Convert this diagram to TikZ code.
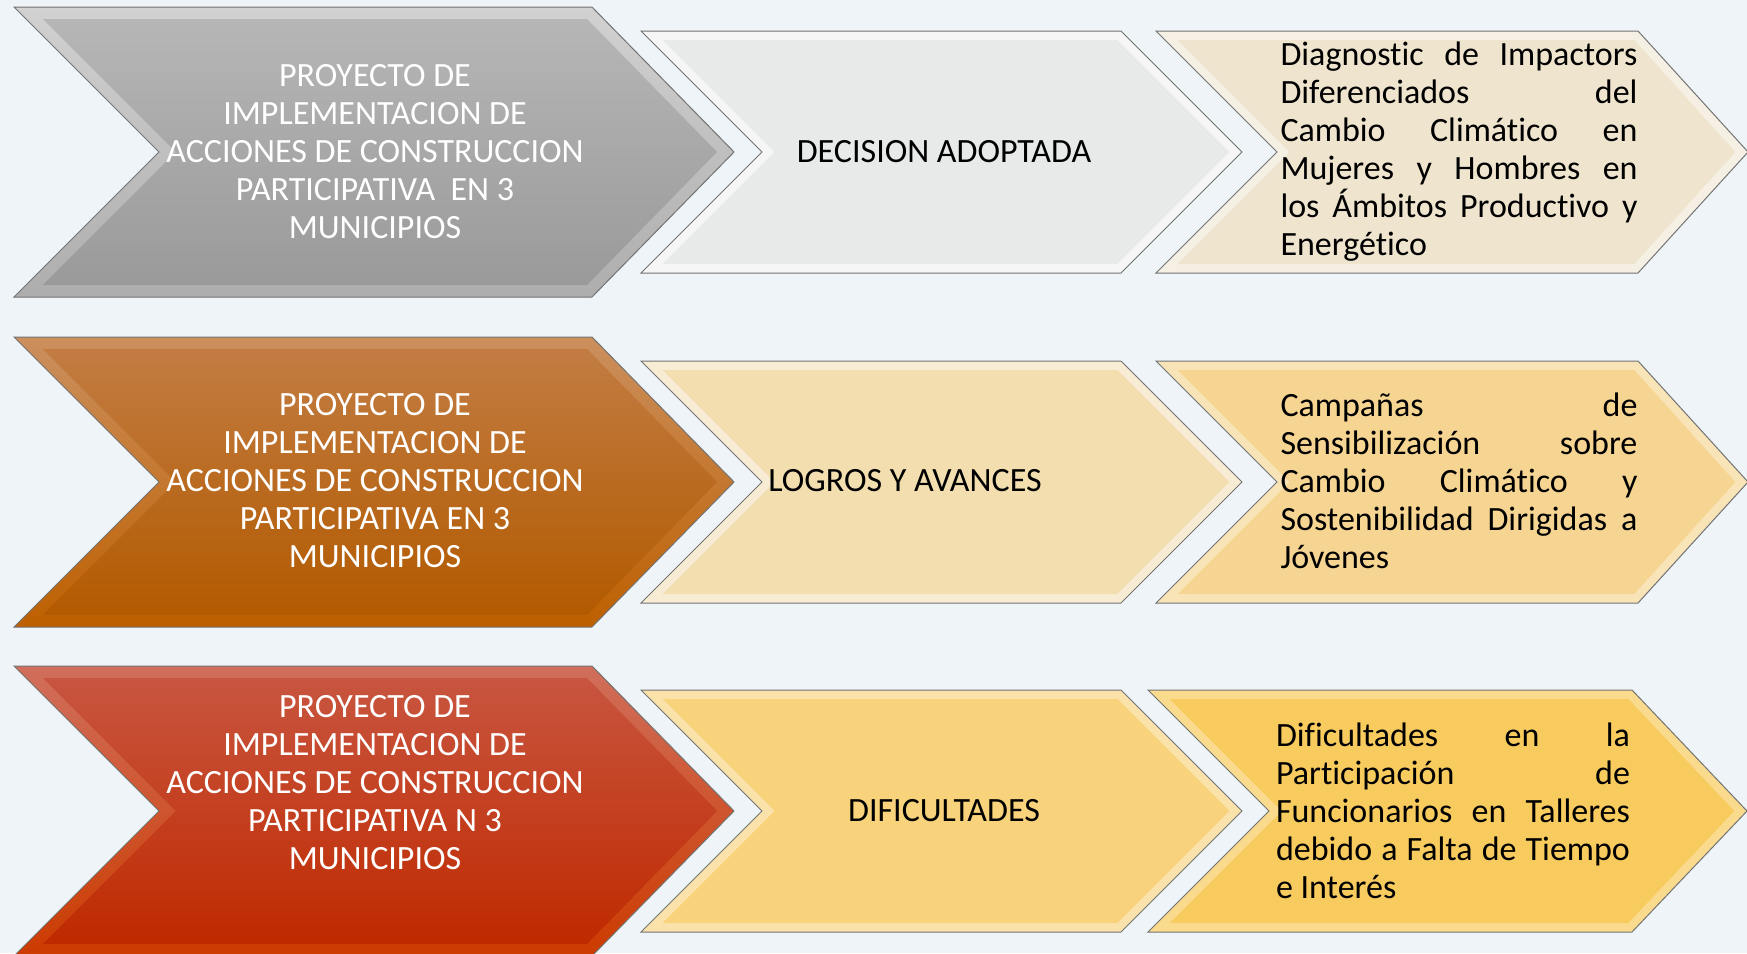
\documentclass[tikz,border=0pt]{standalone}
\usepackage{fontspec}
\setmainfont[Ligatures=NoCommon]{Carlito}
\usepackage{tikz}

\definecolor{bgcol}{HTML}{EEF4F7}
\definecolor{greytop}{HTML}{B6B6B6}
\definecolor{greybot}{HTML}{9A9A9A}
\definecolor{orangetop}{HTML}{C27C42}
\definecolor{orangebot}{HTML}{B25A00}
\definecolor{redtop}{HTML}{C8553F}
\definecolor{redbot}{HTML}{BF2A00}
\definecolor{decision}{HTML}{E8E9E9}
\definecolor{diagnostic}{HTML}{EFE4CE}
\definecolor{logros}{HTML}{F3DEB0}
\definecolor{campanas}{HTML}{F6D592}
\definecolor{dificult}{HTML}{F9D37C}
\definecolor{dificultr}{HTML}{F8CB5E}

% left x, top-right x, mid y, half height, point depth, bevel, edge options, face options
\newcommand{\chev}[8]{%
  \path[draw=black!55, line width=1pt, #7]
    (#1,{#3-#4}) -- (#2,{#3-#4}) -- ({#2+#5},#3) -- (#2,{#3+#4})
    -- (#1,{#3+#4}) -- ({#1+#4},#3) -- cycle;
  \path[#8]
    ({#1+2.414*#6},{#3-#4+#6}) -- ({#2-0.414*#6},{#3-#4+#6}) -- ({#2+#5-1.414*#6},#3)
    -- ({#2-0.414*#6},{#3+#4-#6}) -- ({#1+2.414*#6},{#3+#4-#6}) -- ({#1+#4+1.414*#6},#3) -- cycle;
}
\newcommand{\jl}[2][357pt]{\makebox[#1][s]{#2}}

\begin{document}
\begin{tikzpicture}[x=1pt, y=-1pt, every node/.style={inner sep=0pt, font=\fontsize{34}{38}\selectfont}]
	\tikzset{proj/.style={text=white, align=center},
	         stage/.style={text=black, align=center},
	         detail/.style={text=black, align=left}}
	\fill[bgcol] (0,0) rectangle (1747,953);
	\useasboundingbox (0,0) rectangle (1747,953);
	\chev{14}{592}{152}{145}{142}{12}{top color=black!18, bottom color=black!32}{top color=greytop, bottom color=greybot}
	\chev{641}{1121}{152}{121}{121}{9}{fill=white!60!decision}{fill=decision}
	\chev{1156}{1638}{152}{121}{110}{9}{fill=white!45!diagnostic}{fill=diagnostic}
	\chev{14}{592}{482}{145}{142}{12}{top color=orangetop!85!white, bottom color=orangebot!85!orange}{top color=orangetop, bottom color=orangebot}
	\chev{641}{1121}{482}{121}{121}{9}{fill=white!45!logros}{fill=logros}
	\chev{1156}{1638}{482}{121}{110}{9}{fill=white!35!campanas}{fill=campanas}
	\chev{14}{592}{811}{145}{142}{12}{top color=redtop!85!white, bottom color=redbot!80!orange}{top color=redtop, bottom color=redbot}
	\chev{641}{1121}{811}{121}{121}{9}{fill=white!35!dificult}{fill=dificult}
	\chev{1148}{1632}{811}{121}{115}{9}{fill=white!30!dificultr}{fill=dificultr}
	\node[proj] (p1) at (375,152) {PROYECTO DE\\IMPLEMENTACION DE\\ACCIONES DE CONSTRUCCION\\PARTICIPATIVA~ EN 3\\MUNICIPIOS};
	\node[proj] (p2) at (375,481) {PROYECTO DE\\IMPLEMENTACION DE\\ACCIONES DE CONSTRUCCION\\PARTICIPATIVA EN 3\\MUNICIPIOS};
	\node[proj] (p3) at (375,783) {PROYECTO DE\\IMPLEMENTACION DE\\ACCIONES DE CONSTRUCCION\\PARTICIPATIVA N 3\\MUNICIPIOS};
	\node[stage] (s1) at (944,152) {DECISION ADOPTADA};
	\node[stage] (s2) at (905,481) {LOGROS Y AVANCES};
	\node[stage] (s3) at (944,811) {DIFICULTADES};
	\node[detail] (d1) at (1459,152) {\jl{Diagnostic de Impactors}\\\jl{Diferenciados del}\\\jl{Cambio Climático en}\\\jl{Mujeres y Hombres en}\\\jl{los Ámbitos Productivo y}\\Energético};
	\node[detail] (d2) at (1459,481) {\jl{Campañas de}\\\jl{Sensibilización sobre}\\\jl{Cambio Climático y}\\\jl{Sostenibilidad Dirigidas a}\\Jóvenes};
	\node[detail] (d3) at (1453,811) {\jl[354pt]{Dificultades en la}\\\jl[354pt]{Participación de}\\\jl[354pt]{Funcionarios en Talleres}\\\jl[354pt]{debido a Falta de Tiempo}\\e Interés};
\end{tikzpicture}
\end{document}
